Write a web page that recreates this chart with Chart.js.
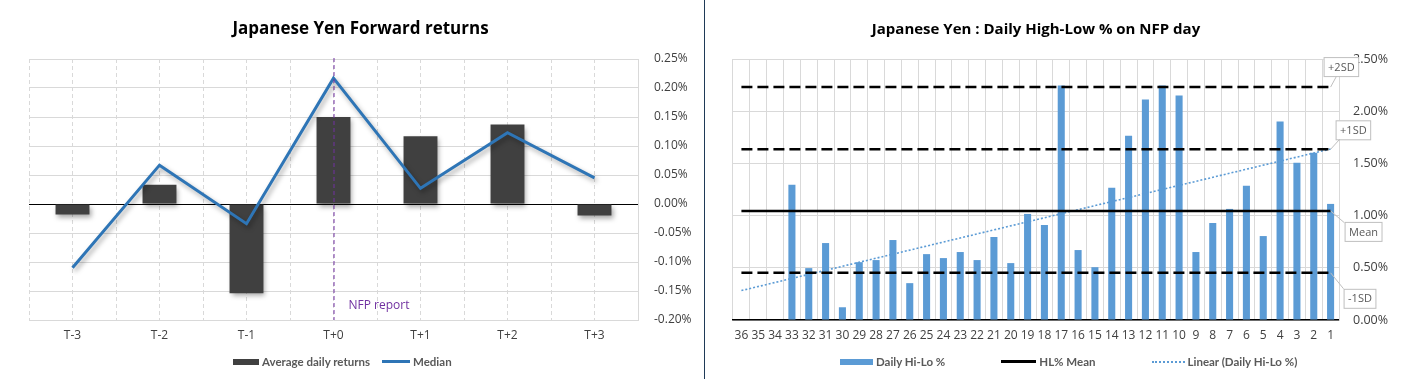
<!DOCTYPE html>
<html>
<head>
<meta charset="utf-8">
<script src="https://cdn.jsdelivr.net/npm/chart.js@4.4.1/dist/chart.umd.min.js"></script>
<style>
  html, body { margin: 0; padding: 0; background: #fff; }
  #wrap { position: relative; width: 1407px; height: 379px; overflow: hidden; }
  .pane { position: absolute; top: 0; height: 379px; }
  #leftPane { left: 0; width: 704px; }
  #rightPane { left: 705px; width: 702px; }
  #sep { position: absolute; left: 704px; top: 0; width: 1px; height: 379px; background: #1f3a57; }
  .legend { position: absolute; top: 355px; display: flex; align-items: center; white-space: nowrap;
            font-family: Lato, "Open Sans", sans-serif; font-size: 11.5px; font-weight: bold; color: #595959; }
  .lg-item { display: flex; align-items: center; }
  .lg-mark { display: inline-block; margin-right: 3px; }
  #leftLegend { left: 233px; }
  #rightLegend { left: 840px; }
</style>
</head>
<body>
<div id="wrap">
  <div class="pane" id="leftPane"><canvas id="fwdChart"></canvas></div>
  <div id="sep"></div>
  <div class="pane" id="rightPane"><canvas id="hiloChart"></canvas></div>
  <div class="legend" id="leftLegend"></div>
  <div class="legend" id="rightLegend"></div>
</div>
<script>
// ---- left chart: forward returns around NFP (values in %)
const dayLabels = ['T-3', 'T-2', 'T-1', 'T+0', 'T+1', 'T+2', 'T+3'];
const avgReturns = [-0.018, 0.033, -0.154, 0.150, 0.117, 0.137, -0.020];
const medianReturns = [-0.110, 0.067, -0.034, 0.217, 0.027, 0.123, 0.045];
const nfpDay = 'T+0';

// ---- right chart: daily high-low % on NFP day (values in %)
const nfpLabels = ['36', '35', '34', '33', '32', '31', '30', '29', '28', '27', '26', '25',
  '24', '23', '22', '21', '20', '19', '18', '17', '16', '15', '14', '13',
  '12', '11', '10', '9', '8', '7', '6', '5', '4', '3', '2', '1'];
const hiloValues = [null, null, null, 1.295, 0.497, 0.737, 0.122, 0.554, 0.574, 0.766, 0.353, 0.631,
  0.593, 0.651, 0.574, 0.795, 0.545, 1.016, 0.910, 2.247, 0.670, 0.506, 1.266, 1.766,
  2.112, 2.247, 2.151, 0.651, 0.929, 1.064, 1.285, 0.804, 1.901, 1.506, 1.603, 1.112];
const meanLevel = 1.045;
const plus1SD = 1.635;
const plus2SD = 2.231;
const minus1SD = 0.452;
const trendStart = 0.282;   // trendline value at '36'
const trendEnd = 1.638;     // trendline value at '1'

const FONT = 'Open Sans';
const TICK_COLOR = '#404040';
const GRID = '#d9d9d9';

// a line that only has its two end points, drawn across the category range
function endPoints(first, last) {
  return nfpLabels.map((_, i) => i === 0 ? first : (i === nfpLabels.length - 1 ? last : null));
}

function pct(v) { return v.toFixed(2) + '%'; }

// shadow under the dark bars and the median line, like the Excel original
const shadowPlugin = {
  id: 'softShadow',
  beforeDatasetDraw(chart) {
    const ctx = chart.ctx;
    ctx.save();
    ctx.shadowColor = 'rgba(0,0,0,0.35)';
    ctx.shadowBlur = 5;
    ctx.shadowOffsetX = 2;
    ctx.shadowOffsetY = 3;
  },
  afterDatasetDraw(chart) { chart.ctx.restore(); }
};

const nfpMarker = {
  id: 'nfpMarker',
  afterDatasetsDraw(chart, args, opts) {
    const { ctx, chartArea, scales } = chart;
    const x = scales.x.getPixelForValue(dayLabels.indexOf(opts.day));
    ctx.save();
    ctx.strokeStyle = opts.color;
    ctx.lineWidth = 1;
    ctx.setLineDash([4, 3]);
    ctx.beginPath();
    ctx.moveTo(x + 0.5, chartArea.top - 1);
    ctx.lineTo(x + 0.5, chartArea.bottom);
    ctx.stroke();
    ctx.setLineDash([]);
    ctx.fillStyle = opts.color;
    ctx.font = '12px ' + FONT;
    ctx.textBaseline = 'middle';
    ctx.fillText(opts.text, x + 15, chartArea.bottom - 14);
    ctx.restore();
  }
};

const calloutPlugin = {
  id: 'callouts',
  afterDatasetsDraw(chart, args, opts) {
    const { ctx, scales } = chart;
    const xEnd = scales.x.getPixelForValue(nfpLabels.length - 1);
    ctx.save();
    ctx.font = '11px ' + FONT;
    ctx.textAlign = 'center';
    ctx.textBaseline = 'middle';
    opts.items.forEach(c => {
      const y = scales.y.getPixelForValue(c.value);
      const w = ctx.measureText(c.text).width + 8;
      const h = 19;
      const bx = xEnd + c.dx, by = y + c.dy;
      ctx.strokeStyle = '#bfbfbf';
      ctx.lineWidth = 1;
      ctx.beginPath();
      ctx.moveTo(xEnd, y);
      ctx.lineTo(xEnd + c.lx, y + c.ly);
      ctx.stroke();
      ctx.fillStyle = '#fff';
      ctx.fillRect(bx, by, w, h);
      ctx.strokeRect(bx + 0.5, by + 0.5, w, h);
      ctx.fillStyle = '#595959';
      ctx.fillText(c.text, bx + w / 2 + 0.5, by + h / 2 + 1);
    });
    ctx.restore();
  }
};

function buildLegend(chart, el, markWidths, gap) {
  el.innerHTML = '';
  let k = 0;
  chart.data.datasets.forEach(ds => {
    if (ds.legendHidden) return;
    const item = document.createElement('span');
    item.className = 'lg-item';
    if (k > 0) item.style.marginLeft = gap + 'px';
    const mark = document.createElement('span');
    mark.className = 'lg-mark';
    mark.style.width = markWidths[k] + 'px';
    if (ds.type === 'line') {
      const style = ds.borderDash ? 'dotted' : 'solid';
      mark.style.borderTop = Math.max(2, Math.round(ds.borderWidth)) + 'px ' + style + ' ' + ds.borderColor;
    } else {
      mark.style.height = '6px';
      mark.style.background = ds.backgroundColor;
    }
    const txt = document.createElement('span');
    txt.textContent = ds.label;
    item.appendChild(mark);
    item.appendChild(txt);
    el.appendChild(item);
    k++;
  });
}

const fwdChart = new Chart(document.getElementById('fwdChart'), {
  type: 'bar',
  data: {
    labels: dayLabels,
    datasets: [
      {
        label: 'Average daily returns',
        data: avgReturns,
        backgroundColor: '#404040',
        barPercentage: 0.39,
        categoryPercentage: 1,
        order: 2
      },
      {
        type: 'line',
        label: 'Median',
        data: medianReturns,
        borderColor: '#2E75B6',
        borderWidth: 3,
        pointRadius: 0,
        tension: 0,
        order: 1
      }
    ]
  },
  plugins: [shadowPlugin, nfpMarker],
  options: {
    responsive: true,
    maintainAspectRatio: false,
    animation: false,
    layout: { padding: { left: 29, right: 12, top: 10, bottom: 28.6 } },
    plugins: {
      legend: { display: false },
      tooltip: { enabled: false },
      title: {
        display: true,
        text: 'Japanese Yen Forward returns',
        color: '#000',
        font: { family: FONT, size: 17, weight: 'bold' },
        padding: { top: 9.4, bottom: 19.2 }
      },
      nfpMarker: { day: nfpDay, text: 'NFP report', color: '#7030A0' }
    },
    scales: {
      x: {
        offset: true,
        grid: { offset: true, color: GRID, drawTicks: false },
        border: { display: false, dash: [4, 3] },
        ticks: { color: TICK_COLOR, font: { family: FONT, size: 12 }, padding: 8 }
      },
      xc: {
        type: 'category',
        position: 'top',
        offset: true,
        grid: { offset: false, color: GRID, drawTicks: false },
        border: { display: false, dash: [4, 3] },
        ticks: { display: false }
      },
      y: {
        position: 'right',
        min: -0.2,
        max: 0.25,
        afterFit(scale) { scale.width = 54; },
        ticks: {
          stepSize: 0.05,
          color: TICK_COLOR,
          font: { family: FONT, size: 12 },
          padding: 16,
          callback: v => pct(Math.abs(v) < 1e-9 ? 0 : v)
        },
        grid: {
          drawTicks: false,
          color: c => Math.abs(c.tick.value) < 1e-9 ? '#000' : GRID
        },
        border: { display: true, color: GRID }
      }
    }
  }
});

const hiloChart = new Chart(document.getElementById('hiloChart'), {
  type: 'bar',
  data: {
    labels: nfpLabels,
    datasets: [
      {
        label: 'Daily Hi-Lo %',
        data: hiloValues,
        backgroundColor: '#5B9BD5',
        barPercentage: 0.42,
        categoryPercentage: 1,
        order: 5
      },
      {
        type: 'line',
        label: 'HL% Mean',
        data: endPoints(meanLevel, meanLevel),
        borderColor: '#000',
        borderWidth: 2.5,
        pointRadius: 0,
        spanGaps: true,
        order: 1
      },
      {
        type: 'line',
        label: 'Linear (Daily Hi-Lo %)',
        data: endPoints(trendStart, trendEnd),
        borderColor: '#5B9BD5',
        borderWidth: 1.6,
        borderDash: [2, 2],
        pointRadius: 0,
        spanGaps: true,
        order: 2
      },
      {
        type: 'line',
        label: '+2SD',
        data: endPoints(plus2SD, plus2SD),
        borderColor: '#000',
        borderWidth: 2.5,
        borderDash: [11, 5],
        pointRadius: 0,
        spanGaps: true,
        legendHidden: true,
        order: 1
      },
      {
        type: 'line',
        label: '+1SD',
        data: endPoints(plus1SD, plus1SD),
        borderColor: '#000',
        borderWidth: 2.5,
        borderDash: [11, 5],
        pointRadius: 0,
        spanGaps: true,
        legendHidden: true,
        order: 1
      },
      {
        type: 'line',
        label: '-1SD',
        data: endPoints(minus1SD, minus1SD),
        borderColor: '#000',
        borderWidth: 2.5,
        borderDash: [11, 5],
        pointRadius: 0,
        spanGaps: true,
        legendHidden: true,
        order: 1
      }
    ]
  },
  plugins: [calloutPlugin],
  options: {
    responsive: true,
    maintainAspectRatio: false,
    animation: false,
    layout: { padding: { left: 28, right: 12, top: 10, bottom: 28.6 } },
    plugins: {
      legend: { display: false },
      tooltip: { enabled: false },
      title: {
        display: true,
        fullSize: false,
        text: 'Japanese Yen : Daily High-Low % on NFP day',
        color: '#000',
        font: { family: FONT, size: 15, weight: 'bold' },
        padding: { top: 11, bottom: 20 }
      },
      callouts: {
        items: [
          { text: '+2SD', value: plus2SD, dx: -7, dy: -30, lx: 6, ly: -11 },
          { text: '+1SD', value: plus1SD, dx: 5, dy: -29, lx: 10, ly: -11 },
          { text: 'Mean', value: meanLevel, dx: 14, dy: 11, lx: 14, ly: 12 },
          { text: '-1SD', value: minus1SD, dx: 13, dy: 16, lx: 13, ly: 16 }
        ]
      }
    },
    scales: {
      x: {
        offset: true,
        grid: { offset: true, color: GRID, drawTicks: false },
        border: { display: true, color: '#000', width: 1.5 },
        ticks: { color: TICK_COLOR, font: { family: FONT, size: 12 }, padding: 8, autoSkip: false, maxRotation: 0 }
      },
      y: {
        position: 'right',
        min: 0,
        max: 2.5,
        afterFit(scale) { scale.width = 56; },
        ticks: {
          stepSize: 0.5,
          color: TICK_COLOR,
          font: { family: FONT, size: 12.5 },
          padding: 14,
          callback: v => pct(v)
        },
        grid: { drawTicks: false, color: GRID },
        border: { display: true, color: GRID }
      }
    }
  }
});

buildLegend(fwdChart, document.getElementById('leftLegend'), [26, 28], 12);
buildLegend(hiloChart, document.getElementById('rightLegend'), [33, 35, 33], 56);
</script>
</body>
</html>
